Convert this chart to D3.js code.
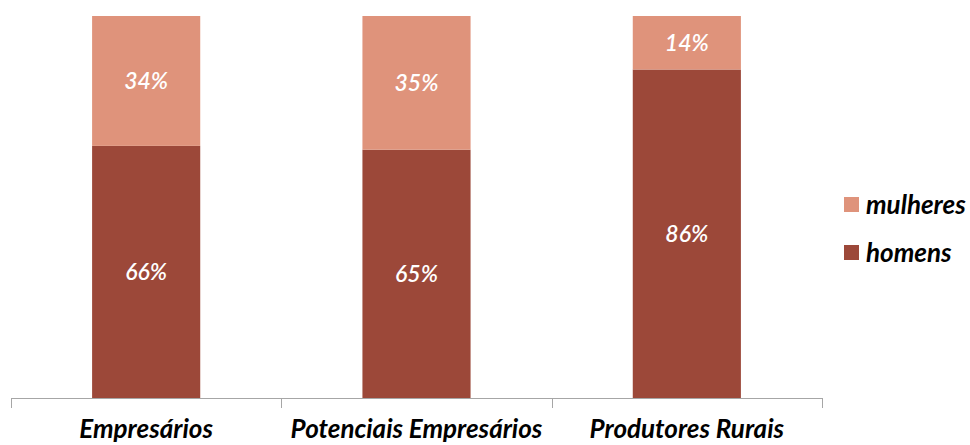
<!DOCTYPE html>
<html>
<head>
<meta charset="utf-8">
<script src="https://cdn.jsdelivr.net/npm/d3@7"></script>
<style>
  body { margin: 0; background: #fff; }
  text { font-family: Lato, "Open Sans", sans-serif; }
</style>
</head>
<body>
<svg id="chart" width="970" height="445"></svg>
<script>
// Share of men and women per group (percent)
const categories = ["Empresários", "Potenciais Empresários", "Produtores Rurais"];
const homens = [66, 65, 86];
const mulheres = [34, 35, 14];
const seriesNames = ["homens", "mulheres"];
const seriesColors = ["#9C4839", "#DF937B"];

const svg = d3.select("#chart");
const margin = { left: 11, right: 148, top: 16, bottom: 47 };
const W = 970, H = 445;

const x = d3.scaleBand().domain(categories)
  .range([margin.left, W - margin.right]).paddingInner(0.6).paddingOuter(0.3);
const y = d3.scaleLinear().domain([0, 100]).range([H - margin.bottom, margin.top]);

const rows = categories.map((c, i) => ({ cat: c, homens: homens[i], mulheres: mulheres[i] }));
const stack = d3.stack().keys(seriesNames)(rows);
const color = d3.scaleOrdinal().domain(seriesNames).range(seriesColors);

const layers = svg.append("g").selectAll("g").data(stack).join("g")
  .attr("fill", d => color(d.key));

layers.selectAll("rect").data(d => d).join("rect")
  .attr("x", d => x(d.data.cat))
  .attr("width", x.bandwidth())
  .attr("y", d => y(d[1]))
  .attr("height", d => y(d[0]) - y(d[1]));

layers.selectAll("text").data(d => d).join("text")
  .attr("x", d => x(d.data.cat) + x.bandwidth() / 2)
  .attr("y", d => (y(d[0]) + y(d[1])) / 2)
  .attr("dy", "0.36em")
  .attr("text-anchor", "middle")
  .attr("fill", "#fff")
  .attr("font-size", 23)
  .attr("font-style", "italic")
  .attr("font-weight", 600)
  .text(d => (d[1] - d[0]) + "%");

// Category axis with boundary ticks between groups
const axisY = y(0);
const ax = svg.append("g");
ax.append("line")
  .attr("x1", margin.left).attr("x2", W - margin.right)
  .attr("y1", axisY + 0.5).attr("y2", axisY + 0.5)
  .attr("stroke", "#A6A6A6").attr("stroke-width", 1);
const bounds = d3.range(categories.length + 1).map(i => margin.left + i * (W - margin.left - margin.right) / categories.length);
ax.selectAll("line.tick").data(bounds).join("line")
  .attr("class", "tick")
  .attr("x1", d => Math.round(d) + 0.5).attr("x2", d => Math.round(d) + 0.5)
  .attr("y1", axisY).attr("y2", axisY + 10)
  .attr("stroke", "#A6A6A6");
ax.selectAll("text").data(categories).join("text")
  .attr("x", d => x(d) + x.bandwidth() / 2)
  .attr("y", 438)
  .attr("text-anchor", "middle")
  .attr("font-size", 26)
  .attr("font-weight", 700)
  .attr("font-style", "italic")
  .attr("fill", "#000")
  .text(d => d);

// Legend (mulheres above homens)
const legendItems = ["mulheres", "homens"];
const lg = svg.append("g").selectAll("g").data(legendItems).join("g")
  .attr("transform", (d, i) => `translate(844,${197 + i * 48})`);
lg.append("rect").attr("width", 15).attr("height", 15).attr("fill", d => color(d));
lg.append("text")
  .attr("x", 22).attr("y", 8).attr("dy", "0.36em")
  .attr("font-size", 26)
  .attr("font-weight", 700)
  .attr("font-style", "italic")
  .attr("fill", "#000")
  .text(d => d);
</script>
</body>
</html>
